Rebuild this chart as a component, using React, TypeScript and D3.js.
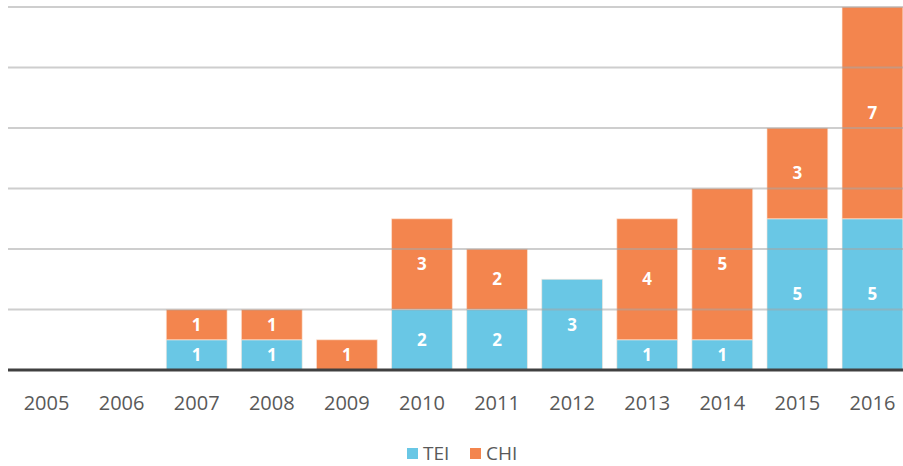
import * as d3 from "d3";

const years = ["2005", "2006", "2007", "2008", "2009", "2010", "2011", "2012", "2013", "2014", "2015", "2016"];
const tei = [0, 0, 1, 1, 0, 2, 2, 3, 1, 1, 5, 5];
const chi = [0, 0, 1, 1, 1, 3, 2, 0, 4, 5, 3, 7];
const seriesNames = ["TEI", "CHI"];
const colors = ["#69C7E5", "#F3854E"];
const gridValues = [2, 4, 6, 8, 10, 12];

const W = 903;
const H = 466;
const baseY = 370;
const font = "'Open Sans', sans-serif";

export default function App() {
  const x = d3.scaleBand().domain(years).range([9, 910]).paddingInner(0.19).paddingOuter(0.095);
  const y = d3.scaleLinear().domain([0, 12]).range([baseY, 7]);

  const rows = years.map((yr, i) => ({ year: yr, TEI: tei[i], CHI: chi[i] }));
  const stacked = d3.stack<any>().keys(seriesNames)(rows);

  return (
    <svg width={W} height={H} style={{ position: "absolute", left: 0, top: 0 }}>
      <rect width={W} height={H} fill="#fff" />
      {stacked.map((s, si) => (
        <g key={s.key}>
          {s.map((d, i) =>
            d[1] - d[0] > 0 ? (
              <g key={i}>
                <rect
                  x={x(years[i])}
                  y={y(d[1])}
                  width={x.bandwidth()}
                  height={y(d[0]) - y(d[1])}
                  fill={colors[si]}
                  stroke="#fde9dc"
                  strokeOpacity={0.6}
                  strokeWidth={1}
                />
                <text
                  x={(x(years[i]) as number) + x.bandwidth() / 2}
                  y={(y(d[0]) + y(d[1])) / 2}
                  dy="0.36em"
                  textAnchor="middle"
                  fontFamily={font}
                  fontWeight="bold"
                  fontSize={17}
                  fill="#fff"
                >
                  {d[1] - d[0]}
                </text>
              </g>
            ) : null
          )}
        </g>
      ))}
      {gridValues.map((v) => (
        <line key={v} x1={8} x2={W} y1={y(v)} y2={y(v)} stroke="#a6a6a6" strokeOpacity={0.55} strokeWidth={2} />
      ))}
      <line x1={8} x2={W} y1={baseY} y2={baseY} stroke="#404040" strokeWidth={3} />
      {years.map((yr) => (
        <text
          key={yr}
          x={(x(yr) as number) + x.bandwidth() / 2}
          y={410}
          textAnchor="middle"
          fontFamily={font}
          fontSize={20}
          fill="#595959"
        >
          {yr}
        </text>
      ))}
      {seriesNames.map((n, i) => (
        <g key={n} transform={`translate(${407 + i * 63},0)`}>
          <rect x={0} y={448} width={11} height={11} fill={colors[i]} />
          <text x={16} y={460} fontFamily={font} fontSize={19} fill="#595959">
            {n}
          </text>
        </g>
      ))}
    </svg>
  );
}
